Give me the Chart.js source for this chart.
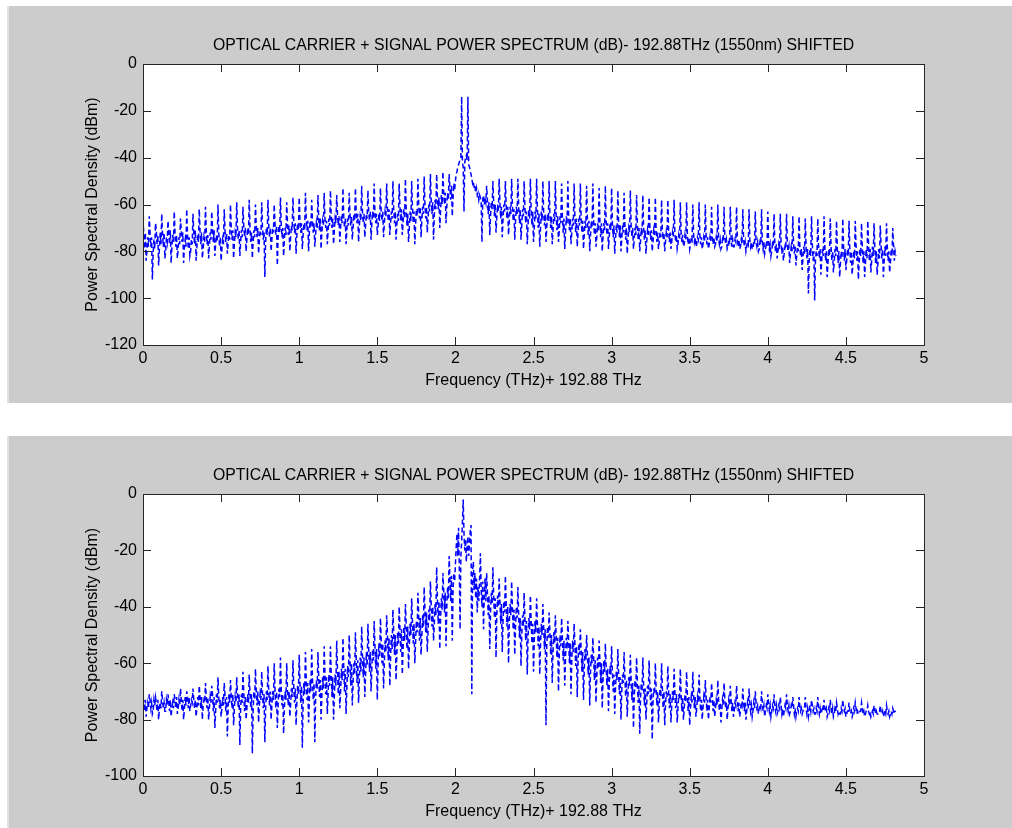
<!DOCTYPE html>
<html>
<head>
<meta charset="utf-8">
<title>Optical carrier + signal power spectrum</title>
<script src="https://cdn.jsdelivr.net/npm/chart.js@4.4.1/dist/chart.umd.min.js"></script>
<style>
  html, body { margin: 0; padding: 0; background: #ffffff; overflow: hidden; }
  .panel { position: absolute; left: 7px; width: 1005px; background: #cccccc; }
  .panel::before { content: ''; position: absolute; left: 0; top: 0; bottom: 0; width: 2px; background: #e2e2e2; }
  .panel canvas { position: absolute; left: 0; top: 0; }
  #panelTop { top: 6px; height: 397px; }
  #panelBottom { top: 436px; height: 392px; }
</style>
</head>
<body>
<div class="panel" id="panelTop"><canvas id="chartTop" width="1005" height="397"></canvas></div>
<div class="panel" id="panelBottom"><canvas id="chartBottom" width="1005" height="392"></canvas></div>

<script>
// textos
const chartTitle = 'OPTICAL CARRIER + SIGNAL POWER SPECTRUM (dB)- 192.88THz (1550nm) SHIFTED';
const xTitle = 'Frequency (THz)+ 192.88 THz';
const yTitle = 'Power Spectral Density (dBm)';

// ticks
const freqTicks = [0, 0.5, 1, 1.5, 2, 2.5, 3, 3.5, 4, 4.5, 5];
const psdTicksTop = [-120, -100, -80, -60, -40, -20, 0];
const psdTicksBottom = [-100, -80, -60, -40, -20, 0];

// separacion entre muestras (THz)
const freqStep = 0.005;

// espectro superior (dBm); cada fila = 0.2 THz
const psdTop = [
  -66, -73, -79, -72, -84, -80, -74, -78, -65, -72, -78, -74, -92, -81, -75, -79, -68, -71, -77, -73, -86, -79, -72, -77, -64, -73, -78, -72, -83, -80, -74, -76, -67, -72, -77, -71, -85, -78, -73, -76,
  -63, -72, -78, -73, -83, -79, -74, -77, -66, -71, -76, -72, -85, -78, -75, -78, -62, -73, -79, -74, -82, -80, -75, -77, -64, -72, -77, -71, -84, -78, -73, -76, -62, -71, -77, -72, -83, -79, -74, -76,
  -61, -71, -77, -73, -83, -78, -72, -75, -63, -70, -76, -71, -82, -77, -73, -76, -60, -72, -78, -74, -84, -79, -75, -77, -62, -71, -76, -72, -81, -77, -73, -75, -60, -70, -75, -71, -83, -77, -72, -74,
  -59, -70, -75, -71, -82, -76, -71, -74, -61, -69, -74, -70, -80, -75, -70, -73, -58, -70, -76, -72, -83, -76, -71, -74, -60, -69, -74, -70, -81, -75, -71, -73, -59, -70, -75, -72, -91, -76, -70, -73,
  -58, -69, -74, -70, -80, -75, -70, -72, -60, -68, -73, -69, -86, -74, -69, -72, -57, -69, -74, -70, -82, -75, -70, -73, -59, -68, -73, -69, -80, -74, -69, -71, -57, -67, -72, -68, -81, -73, -68, -71,
  -57, -67, -72, -68, -79, -73, -68, -71, -55, -66, -71, -67, -80, -72, -67, -70, -58, -67, -72, -68, -78, -73, -68, -70, -56, -66, -71, -66, -79, -72, -67, -69, -55, -66, -70, -67, -77, -71, -66, -69,
  -54, -65, -70, -66, -77, -71, -66, -68, -56, -64, -69, -65, -76, -70, -65, -68, -53, -65, -70, -66, -77, -71, -66, -69, -55, -64, -69, -65, -75, -70, -64, -67, -53, -64, -68, -64, -76, -69, -65, -67,
  -52, -63, -68, -64, -74, -69, -64, -66, -54, -63, -67, -63, -75, -68, -63, -66, -51, -64, -68, -64, -73, -69, -64, -67, -53, -63, -67, -63, -74, -68, -63, -65, -51, -62, -67, -62, -73, -68, -63, -66,
  -50, -62, -68, -63, -75, -69, -64, -67, -51, -61, -67, -62, -73, -68, -62, -66, -49, -62, -69, -64, -76, -70, -63, -67, -50, -61, -68, -63, -77, -69, -62, -65, -49, -60, -66, -61, -74, -67, -61, -64,
  -48, -60, -66, -61, -72, -66, -60, -63, -47, -58, -64, -59, -75, -65, -58, -62, -47, -57, -62, -57, -70, -63, -56, -60, -46, -55, -60, -55, -68, -61, -55, -58, -47, -53, -58, -52, -65, -57, -51, -54,
  -50, -47, -46, -44, -43, -42, -41, -40, -14, -42, -44, -63, -42, -40, -39, -41, -14, -43, -44, -46, -47, -49, -51, -50, -53, -52, -55, -53, -56, -55, -58, -56, -57, -59, -76, -58, -56, -60, -57, -59,
  -52, -58, -64, -59, -73, -65, -59, -62, -50, -59, -65, -60, -72, -66, -60, -63, -49, -59, -66, -61, -74, -66, -60, -63, -50, -60, -66, -61, -73, -67, -61, -64, -49, -60, -67, -62, -75, -67, -61, -64,
  -49, -61, -68, -62, -75, -69, -62, -65, -50, -61, -68, -63, -77, -69, -62, -66, -49, -62, -69, -63, -76, -70, -63, -66, -49, -62, -70, -64, -78, -70, -63, -67, -50, -63, -69, -64, -76, -70, -64, -67,
  -50, -64, -70, -65, -77, -71, -64, -67, -50, -64, -71, -65, -76, -71, -65, -68, -51, -65, -72, -66, -79, -72, -65, -68, -50, -65, -71, -66, -77, -72, -66, -69, -51, -65, -72, -66, -78, -72, -66, -69,
  -51, -66, -72, -67, -79, -73, -67, -70, -52, -66, -73, -67, -80, -73, -67, -70, -51, -67, -73, -68, -78, -74, -68, -71, -53, -67, -74, -68, -80, -74, -68, -71, -52, -67, -73, -68, -79, -74, -68, -71,
  -53, -68, -74, -69, -81, -75, -69, -72, -54, -68, -74, -69, -80, -75, -69, -72, -55, -69, -75, -70, -81, -75, -70, -72, -54, -69, -74, -70, -79, -75, -70, -73, -56, -69, -75, -70, -80, -76, -70, -73,
  -56, -70, -75, -71, -81, -76, -71, -73, -57, -70, -75, -71, -80, -76, -71, -73, -57, -71, -76, -72, -79, -76, -72, -74, -58, -71, -75, -72, -80, -76, -72, -74, -58, -71, -76, -72, -79, -76, -72, -74,
  -58, -72, -76, -73, -79, -77, -73, -75, -59, -72, -76, -73, -78, -77, -73, -75, -59, -73, -77, -74, -79, -77, -74, -75, -60, -73, -76, -74, -78, -77, -74, -75, -59, -73, -77, -74, -79, -77, -74, -76,
  -60, -73, -77, -74, -79, -77, -74, -76, -61, -74, -77, -74, -78, -77, -74, -76, -60, -74, -77, -75, -79, -78, -75, -76, -61, -74, -77, -75, -79, -78, -75, -76, -61, -74, -78, -75, -78, -78, -75, -76,
  -61, -75, -78, -75, -79, -78, -75, -77, -62, -75, -78, -76, -80, -78, -76, -77, -62, -75, -78, -76, -79, -79, -76, -77, -63, -76, -78, -76, -80, -79, -76, -77, -62, -76, -79, -76, -81, -79, -77, -78,
  -63, -76, -79, -77, -82, -80, -77, -78, -64, -77, -80, -77, -83, -80, -77, -79, -64, -76, -81, -78, -84, -81, -78, -79, -64, -77, -80, -78, -85, -81, -78, -80, -65, -77, -81, -78, -86, -82, -78, -80,
  -65, -78, -82, -79, -88, -83, -78, -81, -66, -78, -83, -79, -98, -84, -79, -82, -65, -77, -84, -80, -101, -84, -80, -82, -66, -78, -83, -79, -90, -84, -79, -82, -65, -78, -84, -80, -91, -85, -79, -82,
  -66, -78, -84, -80, -89, -85, -79, -82, -67, -79, -85, -80, -91, -85, -80, -83, -66, -78, -84, -79, -88, -84, -79, -82, -67, -79, -85, -80, -90, -85, -80, -83, -67, -78, -84, -80, -92, -85, -79, -82,
  -68, -78, -85, -80, -91, -85, -79, -83, -67, -77, -84, -79, -89, -84, -78, -82, -68, -78, -85, -80, -90, -85, -79, -83, -69, -77, -83, -79, -91, -84, -78, -82, -68, -78, -84, -80, -89, -85, -79, -82,
  -70, -78, -84, -80, -82
];

// espectro inferior (dBm); cada fila = 0.2 THz
const psdBottom = [
  -72, -74, -77, -73, -79, -76, -74, -76, -71, -73, -76, -74, -78, -77, -73, -75, -72, -74, -77, -73, -80, -76, -74, -76, -70, -73, -76, -74, -77, -77, -73, -75, -71, -74, -77, -73, -79, -76, -74, -76,
  -71, -73, -76, -72, -78, -76, -73, -75, -69, -73, -77, -73, -80, -76, -72, -75, -70, -72, -76, -72, -77, -75, -73, -74, -69, -73, -76, -73, -79, -76, -72, -75, -68, -72, -76, -72, -80, -75, -73, -74,
  -67, -72, -76, -72, -80, -76, -72, -74, -68, -71, -77, -72, -83, -77, -71, -74, -65, -72, -76, -73, -79, -76, -72, -75, -67, -71, -77, -72, -86, -76, -71, -74, -66, -72, -76, -71, -82, -76, -72, -74,
  -65, -71, -76, -71, -89, -76, -71, -74, -63, -70, -77, -72, -80, -76, -71, -74, -64, -71, -76, -71, -92, -77, -70, -73, -62, -70, -75, -70, -81, -75, -71, -73, -63, -71, -76, -71, -88, -76, -70, -73,
  -61, -70, -75, -70, -80, -75, -70, -73, -60, -69, -76, -70, -83, -75, -69, -72, -58, -69, -75, -71, -85, -76, -70, -73, -60, -70, -75, -70, -79, -75, -69, -72, -59, -68, -74, -69, -82, -74, -68, -71,
  -57, -67, -74, -68, -90, -74, -67, -71, -56, -66, -73, -67, -81, -73, -66, -70, -55, -66, -73, -67, -88, -73, -66, -69, -56, -65, -72, -66, -80, -72, -65, -69, -54, -64, -71, -65, -78, -71, -64, -68,
  -54, -64, -72, -65, -80, -72, -64, -68, -52, -62, -71, -63, -76, -70, -62, -66, -51, -61, -70, -62, -78, -69, -61, -65, -50, -59, -68, -60, -75, -67, -60, -64, -49, -58, -67, -59, -74, -66, -58, -63,
  -47, -57, -65, -58, -72, -64, -56, -61, -46, -55, -63, -56, -70, -62, -55, -59, -45, -54, -62, -55, -73, -61, -53, -58, -44, -52, -60, -53, -69, -60, -52, -56, -43, -50, -59, -51, -68, -58, -50, -55,
  -41, -49, -57, -50, -66, -57, -49, -53, -40, -48, -56, -48, -64, -55, -47, -52, -39, -46, -55, -47, -62, -54, -46, -50, -37, -45, -53, -46, -60, -53, -45, -49, -35, -43, -52, -44, -57, -51, -43, -47,
  -33, -41, -49, -42, -56, -48, -41, -45, -31, -39, -47, -40, -52, -46, -39, -43, -26, -37, -46, -38, -55, -44, -37, -41, -28, -34, -42, -35, -54, -40, -33, -37, -22, -30, -38, -29, -52, -34, -28, -31,
  -25, -19, -14, -22, -12, -26, -48, -22, -17, -10, -2, -14, -20, -16, -24, -18, -15, -22, -18, -13, -11, -71, -27, -24, -34, -28, -37, -30, -42, -33, -38, -30, -21, -34, -40, -31, -48, -36, -30, -38,
  -28, -35, -43, -36, -55, -42, -35, -39, -26, -36, -44, -37, -58, -43, -36, -40, -30, -38, -46, -39, -56, -45, -38, -42, -29, -39, -47, -40, -60, -46, -39, -43, -31, -40, -48, -41, -57, -47, -40, -44,
  -33, -43, -51, -44, -61, -50, -43, -47, -35, -44, -52, -45, -64, -51, -44, -48, -36, -45, -53, -46, -63, -52, -45, -49, -37, -46, -54, -47, -64, -53, -46, -50, -39, -47, -55, -48, -82, -54, -47, -51,
  -42, -49, -57, -50, -67, -56, -49, -53, -43, -50, -58, -51, -70, -57, -50, -54, -44, -51, -59, -52, -68, -58, -51, -55, -45, -52, -60, -53, -71, -59, -52, -56, -46, -53, -61, -54, -72, -60, -53, -57,
  -48, -55, -63, -56, -73, -62, -55, -59, -50, -57, -64, -58, -75, -63, -57, -60, -51, -58, -66, -59, -74, -65, -58, -62, -52, -59, -67, -60, -76, -66, -59, -63, -53, -61, -68, -62, -77, -67, -61, -64,
  -54, -63, -70, -64, -78, -69, -63, -66, -55, -64, -71, -65, -80, -70, -64, -67, -56, -65, -72, -66, -79, -71, -65, -68, -57, -66, -73, -67, -83, -72, -66, -69, -58, -67, -74, -68, -85, -73, -67, -70,
  -58, -68, -75, -69, -80, -74, -68, -71, -59, -68, -75, -69, -87, -74, -69, -71, -60, -69, -75, -70, -81, -75, -69, -72, -60, -69, -76, -70, -82, -75, -70, -72, -61, -70, -76, -71, -81, -75, -70, -73,
  -62, -70, -76, -71, -81, -76, -71, -73, -62, -71, -77, -72, -80, -76, -71, -74, -63, -71, -77, -72, -82, -76, -72, -74, -63, -71, -76, -72, -79, -76, -72, -74, -64, -72, -77, -73, -80, -76, -72, -74,
  -66, -72, -77, -73, -80, -76, -72, -74, -67, -72, -77, -73, -79, -76, -73, -75, -66, -73, -77, -74, -81, -77, -73, -75, -67, -73, -76, -74, -80, -76, -73, -75, -68, -73, -77, -74, -79, -77, -74, -75,
  -68, -73, -77, -74, -79, -77, -74, -75, -69, -74, -77, -74, -80, -77, -74, -76, -69, -74, -77, -75, -79, -77, -74, -76, -70, -74, -76, -75, -78, -76, -75, -76, -70, -74, -77, -75, -79, -77, -75, -76,
  -71, -74, -77, -75, -79, -77, -75, -76, -71, -75, -77, -75, -78, -77, -75, -76, -72, -75, -78, -76, -79, -77, -75, -76, -71, -75, -77, -75, -78, -77, -75, -76, -72, -75, -78, -76, -79, -77, -76, -77,
  -72, -75, -77, -76, -78, -77, -76, -76, -72, -76, -78, -76, -79, -77, -75, -77, -73, -75, -77, -76, -78, -78, -76, -77, -72, -76, -78, -76, -78, -77, -76, -77, -73, -76, -77, -76, -79, -78, -76, -77,
  -73, -76, -78, -76, -79, -78, -76, -77, -74, -76, -78, -77, -78, -78, -76, -77, -73, -76, -77, -76, -79, -78, -77, -77, -74, -77, -78, -77, -79, -78, -76, -77, -74, -76, -78, -77, -78, -78, -77, -77,
  -74, -76, -78, -77, -79, -78, -77, -77, -75, -77, -78, -77, -79, -78, -77, -78, -75, -76, -78, -77, -78, -78, -77, -77, -75, -77, -78, -77, -79, -78, -77, -78, -75, -77, -78, -77, -79, -78, -77, -78,
  -76, -77, -78, -77, -77
];

const FONT = "'Liberation Sans', Arial, Helvetica, sans-serif";

// caja blanca, titulo y ticks hacia adentro, estilo MATLAB
const matlabAxes = {
  id: 'matlabAxes',
  beforeDraw(chart) {
    const { ctx, chartArea: a } = chart;
    ctx.save();
    ctx.fillStyle = '#ffffff';
    ctx.fillRect(a.left, a.top, a.right - a.left, a.bottom - a.top);
    ctx.restore();
  },
  afterDraw(chart) {
    const { ctx, chartArea: a, scales } = chart;
    const len = 8;
    ctx.save();
    ctx.strokeStyle = '#262626';
    ctx.lineWidth = 1;
    ctx.beginPath();
    scales.x.ticks.forEach(t => {
      const px = Math.round(scales.x.getPixelForValue(t.value)) + 0.5;
      ctx.moveTo(px, a.top); ctx.lineTo(px, a.top + len);
      ctx.moveTo(px, a.bottom); ctx.lineTo(px, a.bottom - len);
    });
    scales.y.ticks.forEach(t => {
      const py = Math.round(scales.y.getPixelForValue(t.value)) + 0.5;
      ctx.moveTo(a.left, py); ctx.lineTo(a.left + len, py);
      ctx.moveTo(a.right, py); ctx.lineTo(a.right - len, py);
    });
    ctx.stroke();
    ctx.strokeRect(Math.round(a.left) + 0.5, Math.round(a.top) + 0.5,
      Math.round(a.right - a.left), Math.round(a.bottom - a.top));

    // titulo centrado sobre el area del grafico
    ctx.fillStyle = '#000000';
    ctx.font = '15.8px ' + FONT;
    ctx.textAlign = 'center';
    ctx.textBaseline = 'middle';
    ctx.fillText(chartTitle, (a.left + a.right) / 2, a.top - 18);
    ctx.restore();
  }
};

function crearGrafico(canvasId, psd, psdTicks, xAxisHeight, xTitlePad) {
  const ctx = document.getElementById(canvasId).getContext('2d');
  const puntos = psd.map((v, i) => ({ x: i * freqStep, y: v }));

  return new Chart(ctx, {
    type: 'line',
    data: {
      datasets: [{
        data: puntos,
        borderColor: '#0000ff',
        borderWidth: 1.5,
        borderDash: [5, 3],
        pointRadius: 0,
        tension: 0,
        fill: false
      }]
    },
    options: {
      responsive: false,
      animation: false,
      events: [],
      layout: { padding: { left: 60, right: 88, top: 58, bottom: 0 } },
      plugins: {
        legend: { display: false },
        tooltip: { enabled: false },
        title: { display: false }
      },
      scales: {
        x: {
          type: 'linear',
          min: freqTicks[0],
          max: freqTicks[freqTicks.length - 1],
          afterFit: s => { s.height = xAxisHeight; },
          grid: { display: false, drawTicks: false },
          border: { display: false },
          ticks: {
            stepSize: freqTicks[1] - freqTicks[0],
            padding: 4,
            color: '#000000',
            font: { family: FONT, size: 16 },
            maxRotation: 0,
            autoSkip: false,
            callback: v => String(v)
          },
          title: {
            display: true,
            text: xTitle,
            color: '#000000',
            font: { family: FONT, size: 16 },
            padding: { top: 0, bottom: xTitlePad }
          }
        },
        y: {
          min: psdTicks[0],
          max: psdTicks[psdTicks.length - 1],
          afterFit: s => { s.width = 76; },
          grid: { display: false, drawTicks: false },
          border: { display: false },
          ticks: {
            stepSize: psdTicks[1] - psdTicks[0],
            padding: 6,
            color: '#000000',
            font: { family: FONT, size: 16 },
            autoSkip: false,
            callback: v => String(v)
          },
          title: {
            display: true,
            text: yTitle,
            color: '#000000',
            font: { family: FONT, size: 16 },
            padding: { top: 15.9, bottom: 0 }
          }
        }
      }
    },
    plugins: [matlabAxes]
  });
}

document.addEventListener('DOMContentLoaded', function() {
  crearGrafico('chartTop', psdTop, psdTicksTop, 58, 12.7);
  crearGrafico('chartBottom', psdBottom, psdTicksBottom, 52, 6.7);
});
</script>
</body>
</html>
